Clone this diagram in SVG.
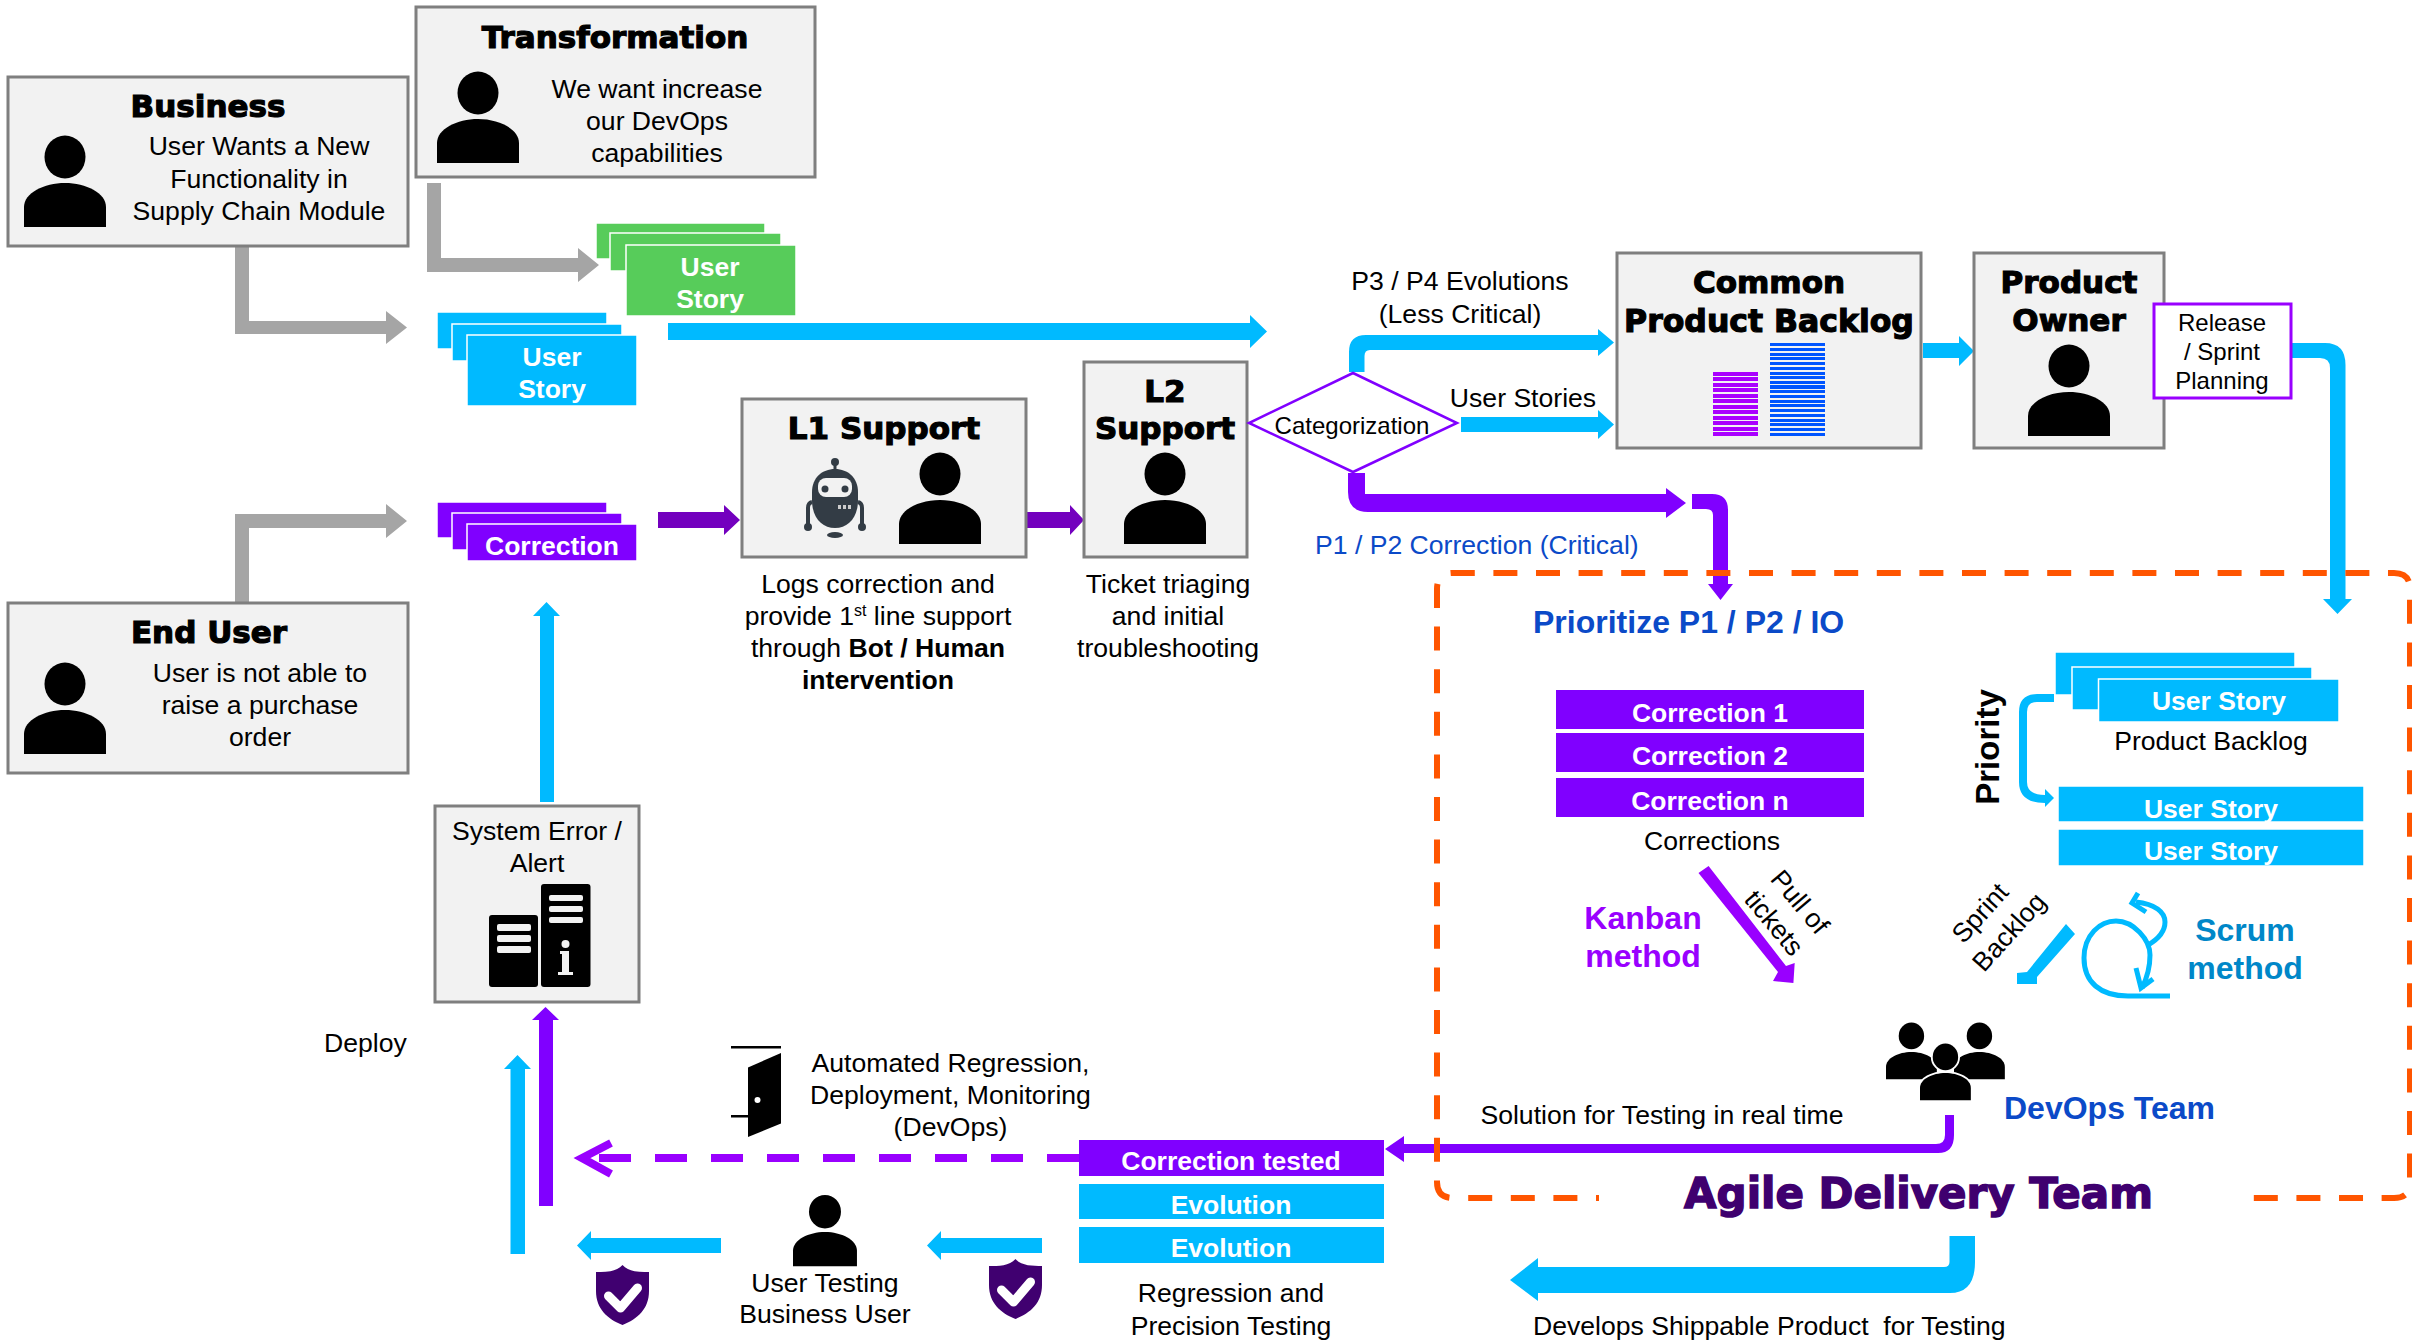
<svg xmlns="http://www.w3.org/2000/svg" xmlns:xlink="http://www.w3.org/1999/xlink" width="2412" height="1340" viewBox="0 0 2412 1340">
<style>
text{font-family:"Liberation Sans",Arial,sans-serif;font-size:26.6px;fill:#000;text-anchor:middle}
.h{font-family:"DejaVu Sans",sans-serif;font-weight:bold;font-size:31px;stroke:#000;stroke-width:1.2px}
.w{fill:#fff;font-weight:bold;font-size:26.5px}
.s{text-anchor:start}
.b{font-weight:bold}
.bl{fill:#0B4AC8}
.box{fill:#f2f2f2;stroke:#7f7f7f;stroke-width:3}
.blue{fill:#00BAFF}
.st{stroke:#fff;stroke-width:1.5;fill:#00BAFF}
.sp{stroke:#fff;stroke-width:1.5;fill:#8000FF}
.sg{stroke:#fff;stroke-width:1.5;fill:#57CC5A}
.grey{fill:#A5A5A5}
.pur{fill:#8000FF}
.dp{fill:#7300BE}
.kw{font-weight:bold;font-size:32px}
</style>
<defs>
<g id="person"><ellipse cx="41" cy="-26" rx="20.5" ry="21.5"/><path d="M0,44V24C0,10 20,0 41,0C62,0 82,10 82,24V44Z"/></g>
<g id="shield"><path fill="#400070" d="M0,0C6,7 17,7 26.5,7V26C26.5,44 15,54 0,60C-15,54 -26.5,44 -26.5,26V7C-17,7 -6,7 0,0Z"/><path fill="none" stroke="#fff" stroke-width="9" stroke-linecap="round" stroke-linejoin="round" d="M-14,31L-2,43L15,23"/></g>
</defs>
<rect width="2412" height="1340" fill="#fff"/>

<g id="connectors">
<path class="grey" d="M427,183H441V258H578V248L599,265L578,282V272H427Z"/>
<path class="grey" d="M235,246H249V321H386V311L407,327.5L386,344V334H235Z"/>
<path class="grey" d="M235,603V514H386V504L407,521L386,538V528H249V603Z"/>
<path class="blue" d="M668,323H1250V315L1267,331.5L1250,348V340H668Z"/>
<path class="dp" d="M658,512H724V505L740,520L724,535V528H658Z"/>
<path class="dp" d="M1027,512H1070V505L1084,520L1070,535V528H1027Z"/>
<path class="blue" d="M1349,372V352Q1349,335 1366,335H1598V329L1614,342.5L1598,356V350H1370Q1364.5,350 1364.5,356V372Z"/>
<path class="blue" d="M1461,417H1598V410L1614,424.5L1598,439V432H1461Z"/>
<path class="blue" d="M1923,343H1959V336L1974,351L1959,366V358H1923Z"/>
<path class="pur" d="M1348,473V492Q1348,512 1368,512H1666V518L1686,503L1666,488V494H1365V473Z"/>
<path class="pur" d="M1692,494H1712Q1728,494 1728,510V584H1733L1720.5,600L1708,584H1713V515Q1713,509 1706,509H1692Z"/>
<path class="blue" d="M2291,343H2325Q2345.5,343 2345.5,365V599H2352L2337.5,614L2323,599H2330V368Q2330,358 2320,358H2291Z"/>
<path class="blue" d="M540,802V616H533L546.5,602L560,616H554V802Z"/>
<path class="pur" d="M539,1206V1020H532L545.5,1007L559,1020H553V1206Z"/>
<path class="blue" d="M510.500,1254V1069H504L517.500,1055L531,1069H525V1254Z"/>
<path fill="none" stroke="#9900FF" stroke-width="8" stroke-dasharray="32 24" d="M1079,1158H598"/>
<path fill="none" stroke="#9900FF" stroke-width="8" d="M611,1143L582,1158L611,1174"/>
<path class="blue" d="M1042,1238H941V1231L927,1245.500L941,1260V1253H1042Z"/>
<path class="blue" d="M721,1238H591V1231L577,1245.500L591,1260V1253H721Z"/>
<path class="pur" d="M1945,1115V1135Q1945,1144 1936,1144H1404V1136L1385,1149L1404,1162V1153H1938Q1954,1153 1954,1135V1115Z"/>
<path class="blue" d="M1949.500,1236V1262Q1949.500,1267 1944,1267H1538V1258L1510,1280L1538,1301V1293H1950Q1975,1293 1975,1262V1236Z"/>
<path fill="#9900FF" d="M1708.600,866L1786,966L1794.700,963L1793.400,983L1773,981L1778,972L1698.500,873Z"/>
<path class="blue" d="M2066,924L2075,934L2037,977V984H2017V973L2027,972Z"/>
<path fill="none" stroke="#00BAFF" stroke-width="8" d="M2054,698H2037Q2023,698 2023,712V782Q2023,799 2045,799"/>
<path class="blue" d="M2045,789L2054,798L2045,807Z"/>
</g>

<g id="agile-frame">
<path fill="none" stroke="#FF5500" stroke-width="6" stroke-dasharray="24 18.600" stroke-dashoffset="21" d="M1599,1198H1453Q1437,1198 1437,1182V589Q1437,573 1453,573H2394Q2410,573 2410,589V1182Q2410,1198 2394,1198H2239"/>
</g>

<g id="business">
<rect class="box" x="8" y="77" width="400" height="169"/>
<use xlink:href="#person" href="#person" x="24" y="183"/>
<text class="h" x="208" y="117">Business</text>
<text x="259" y="154.500">User Wants a New</text>
<text x="259" y="187.500">Functionality in</text>
<text x="259" y="219.500">Supply Chain Module</text>
</g>
<g id="transformation">
<rect class="box" x="416" y="7" width="399" height="170"/>
<use xlink:href="#person" href="#person" x="437" y="119"/>
<text class="h" x="615" y="48">Transformation</text>
<text x="657" y="97.500">We want increase</text>
<text x="657" y="129.500">our DevOps</text>
<text x="657" y="161.500">capabilities</text>
</g>
<g id="end-user">
<rect class="box" x="8" y="603" width="400" height="170"/>
<use xlink:href="#person" href="#person" x="24" y="710"/>
<text class="h" x="209" y="643">End User</text>
<text x="260" y="681.500">User is not able to</text>
<text x="260" y="713.500">raise a purchase</text>
<text x="260" y="745.500">order</text>
</g>

<g id="story-green">
<rect class="sg" x="596" y="223" width="169" height="36"/>
<rect class="sg" x="610" y="233" width="171" height="38"/>
<rect class="sg" x="626" y="245" width="170" height="71"/>
<text class="w" x="710" y="276">User</text>
<text class="w" x="710" y="308">Story</text>
</g>
<g id="story-blue">
<rect class="st" x="437" y="312" width="170" height="37"/>
<rect class="st" x="452" y="324" width="170" height="37"/>
<rect class="st" x="467" y="335" width="170" height="71"/>
<text class="w" x="552" y="366">User</text>
<text class="w" x="552" y="398">Story</text>
</g>
<g id="correction-stack">
<rect class="sp" x="437" y="502" width="170" height="36"/>
<rect class="sp" x="452" y="513" width="170" height="37"/>
<rect class="sp" x="467" y="524" width="170" height="37"/>
<text class="w" x="552" y="555">Correction</text>
</g>

<g id="l1-support">
<rect class="box" x="742" y="399" width="284" height="158"/>
<text class="h" x="884" y="439">L1 Support</text>
<g id="robot">
<circle cx="835" cy="462" r="4" fill="#333C45"/>
<path fill="#333C45" d="M833.500,462H836.500V470H833.500Z"/>
<path fill="#333C45" d="M812,500V492C812,478 822,469 835,469C848,469 858,478 858,492V500C858,518 848,528 835,528C822,528 812,518 812,500Z"/>
<rect x="818" y="478" width="34" height="19" rx="8" fill="#f2f2f2"/>
<circle cx="825" cy="489" r="3.500" fill="#333C45"/>
<circle cx="845" cy="489" r="3.500" fill="#333C45"/>
<g fill="#ccc"><rect x="838" y="505" width="3" height="4"/><rect x="843" y="505" width="3" height="4"/><rect x="848" y="505" width="3" height="4"/></g>
<path fill="none" stroke="#333C45" stroke-width="4" d="M812,502Q808,503 808,508V525M858,502Q862,503 862,508V525"/>
<circle cx="808" cy="527" r="4" fill="#333C45"/>
<circle cx="862" cy="527" r="4" fill="#333C45"/>
<ellipse cx="835" cy="535" rx="8" ry="3" fill="#333C45"/>
</g>
<use xlink:href="#person" href="#person" x="899" y="500"/>
<text x="878" y="592.500">Logs correction and</text>
<text x="878" y="624.500">provide 1<tspan font-size="16" dy="-9">st</tspan><tspan dy="9"> line support</tspan></text>
<text x="878" y="656.500">through <tspan class="b">Bot / Human</tspan></text>
<text class="b" x="878" y="688.500">intervention</text>
</g>
<g id="l2-support">
<rect class="box" x="1084" y="362" width="163" height="195"/>
<text class="h" x="1165" y="402">L2</text>
<text class="h" x="1165" y="439">Support</text>
<use xlink:href="#person" href="#person" x="1124" y="500"/>
<text x="1168" y="592.500">Ticket triaging</text>
<text x="1168" y="624.500">and initial</text>
<text x="1168" y="657">troubleshooting</text>
</g>
<g id="categorization">
<path fill="#fff" stroke="#8000FF" stroke-width="2.500" d="M1353,373L1457,423L1353,472L1249,423Z"/>
<text x="1352" y="433.500" style="font-size:24px">Categorization</text>
</g>
<g id="labels">
<text x="1460" y="289.500">P3 / P4 Evolutions</text>
<text x="1460" y="322.500">(Less Critical)</text>
<text x="1523" y="406.500">User Stories</text>
<text class="s bl" x="1315" y="553.500">P1 / P2 Correction (Critical)</text>
</g>
<g id="common-backlog">
<rect class="box" x="1617" y="253" width="304" height="195"/>
<text class="h" x="1769" y="293">Common</text>
<text class="h" x="1769" y="332" style="font-size:31.500px">Product Backlog</text>
<path fill="#AA00FF" d="M1713,372h45v4h-45zM1713,377h45v4h-45zM1713,383h45v4h-45zM1713,388h45v4h-45zM1713,394h45v4h-45zM1713,399h45v4h-45zM1713,405h45v4h-45zM1713,410h45v4h-45zM1713,416h45v4h-45zM1713,421h45v4h-45zM1713,427h45v4h-45zM1713,432h45v4h-45z"/>
<path fill="#0055FF" d="M1770,343h55v3h-55zM1770,348h55v3h-55zM1770,353h55v3h-55zM1770,357h55v3h-55zM1770,362h55v3h-55zM1770,367h55v3h-55zM1770,372h55v3h-55zM1770,376h55v3h-55zM1770,381h55v3h-55zM1770,385h55v4h-55zM1770,390h55v3h-55zM1770,395h55v3h-55zM1770,400h55v3h-55zM1770,404h55v3h-55zM1770,409h55v3h-55zM1770,414h55v3h-55zM1770,419h55v3h-55zM1770,423h55v3h-55zM1770,428h55v3h-55zM1770,433h55v3h-55z"/>
</g>
<g id="product-owner">
<rect class="box" x="1974" y="253" width="190" height="195"/>
<text class="h" x="2069" y="293">Product</text>
<text class="h" x="2069" y="331">Owner</text>
<use xlink:href="#person" href="#person" x="2028" y="392"/>
</g>
<g id="release">
<rect x="2154" y="304" width="137" height="94" fill="#fff" stroke="#9900FF" stroke-width="3"/>
<text x="2222" y="331" style="font-size:24px">Release</text>
<text x="2222" y="360" style="font-size:24px">/ Sprint</text>
<text x="2222" y="389" style="font-size:24px">Planning</text>
</g>

<g id="system-error">
<rect class="box" x="435" y="806" width="204" height="196"/>
<text x="537" y="839.500">System Error /</text>
<text x="537" y="871.500">Alert</text>
<rect x="489" y="915" width="49" height="72" rx="3"/>
<rect x="541" y="884" width="49.500" height="103" rx="3"/>
<g fill="#f2f2f2">
<rect x="497" y="924" width="34" height="7" rx="2"/><rect x="497" y="935" width="34" height="7" rx="2"/><rect x="497" y="946" width="34" height="7" rx="2"/>
<rect x="549" y="895" width="34" height="6" rx="2"/><rect x="549" y="906" width="34" height="6" rx="2"/><rect x="549" y="917" width="34" height="6" rx="2"/>
<circle cx="565.500" cy="944" r="4"/><path d="M560,951H569V972H573V975H558V972H562V954H560Z"/>
</g>
</g>
<text id="deploy" class="s" x="324" y="1051.500">Deploy</text>
<g id="devops-automation">
<path d="M731,1046h50v2.500h-50zM731,1115h17v2.500h-17z"/>
<path d="M748,1067.500L781,1053V1123.600L748,1137Z"/>
<circle cx="757.500" cy="1100" r="3" fill="#fff"/>
<text x="950.500" y="1071.500">Automated Regression,</text>
<text x="950.500" y="1103.500">Deployment, Monitoring</text>
<text x="950.500" y="1135.500">(DevOps)</text>
</g>
<g id="testing">
<rect x="1079" y="1140" width="305" height="36" fill="#8000FF"/>
<text class="w" x="1231" y="1170">Correction tested</text>
<rect class="blue" x="1079" y="1184" width="305" height="35"/>
<text class="w" x="1231" y="1214">Evolution</text>
<rect class="blue" x="1079" y="1227" width="305" height="36"/>
<text class="w" x="1231" y="1257">Evolution</text>
<text x="1231" y="1301.500">Regression and</text>
<text x="1231" y="1334.500">Precision Testing</text>
</g>
<g id="user-testing">
<use xlink:href="#person" href="#person" transform="translate(793,1232) scale(.78)"/>
<text x="825" y="1292">User Testing</text>
<text x="825" y="1323">Business User</text>
</g>
<use id="shield-1" xlink:href="#shield" href="#shield" x="622.500" y="1265"/>
<use id="shield-2" xlink:href="#shield" href="#shield" x="1015.500" y="1259"/>

<g id="agile-team">
<text class="b bl s" x="1533" y="633" style="font-size:32px">Prioritize P1 / P2 / IO</text>
<g id="corrections">
<rect x="1556" y="690" width="308" height="39" fill="#8000FF"/>
<rect x="1556" y="733" width="308" height="39" fill="#8000FF"/>
<rect x="1556" y="778" width="308" height="39" fill="#8000FF"/>
<text class="w" x="1710" y="722">Correction 1</text>
<text class="w" x="1710" y="765">Correction 2</text>
<text class="w" x="1710" y="810">Correction n</text>
<text x="1712" y="850">Corrections</text>
</g>
<g id="kanban">
<text class="kw" x="1643" y="929" style="fill:#9900FF">Kanban</text>
<text class="kw" x="1643" y="967" style="fill:#9900FF">method</text>
<text transform="translate(1800,902) rotate(50)" y="9">Pull of</text>
<text transform="translate(1774,923) rotate(50)" y="9">tickets</text>
</g>
<g id="product-backlog">
<rect class="st" x="2055" y="652" width="240" height="43"/>
<rect class="st" x="2072" y="667" width="240" height="43"/>
<rect class="st" x="2098.500" y="679" width="240.500" height="43"/>
<text class="w" x="2219" y="710">User Story</text>
<text x="2211" y="749.500">Product Backlog</text>
<text class="b" transform="translate(1999,747) rotate(-90)" style="font-size:33px">Priority</text>
<rect class="st" x="2058" y="786" width="306" height="36"/>
<rect class="st" x="2058" y="829" width="306" height="37"/>
<text class="w" x="2211" y="818">User Story</text>
<text class="w" x="2211" y="860">User Story</text>
</g>
<g id="scrum">
<text transform="translate(1980,913) rotate(-48)" y="9">Sprint</text>
<text transform="translate(2009,932) rotate(-48)" y="9">Backlog</text>
<g fill="none" stroke="#00BAFF" stroke-width="5">
<path d="M2170,996H2128C2100,996 2084,982 2084,958C2084,935 2100,921 2116,921C2134,921 2150,940 2150,955C2150,970 2146,980 2142,988"/>
<path d="M2136,968L2141,988L2153,979"/>
<path d="M2148,945C2160,938 2165,930 2165,922C2165,912 2155,904 2136,902"/>
<path d="M2138,893L2132,903L2146,912"/>
</g>
<text class="kw" x="2245" y="941" style="fill:#0087C8">Scrum</text>
<text class="kw" x="2245" y="979" style="fill:#0087C8">method</text>
</g>
<g id="devops-team">
<use xlink:href="#person" href="#person" transform="translate(1886,1052) scale(.62)"/>
<use xlink:href="#person" href="#person" transform="translate(1954,1052) scale(.62)"/>
<use xlink:href="#person" href="#person" transform="translate(1920,1073) scale(.62)" stroke="#fff" stroke-width="6" style="paint-order:stroke"/>
<text class="b bl s" x="2004" y="1119" style="font-size:32px">DevOps Team</text>
</g>
<text x="1662" y="1123.500">Solution for Testing in real time</text>
<text class="h" x="1918.500" y="1208" style="font-size:42px;fill:#3F006F;stroke:#3F006F;stroke-width:1.500px">Agile Delivery Team</text>
</g>
<text id="develops" class="s" x="1533" y="1334.500">Develops Shippable Product&#160; for Testing</text>
</svg>
